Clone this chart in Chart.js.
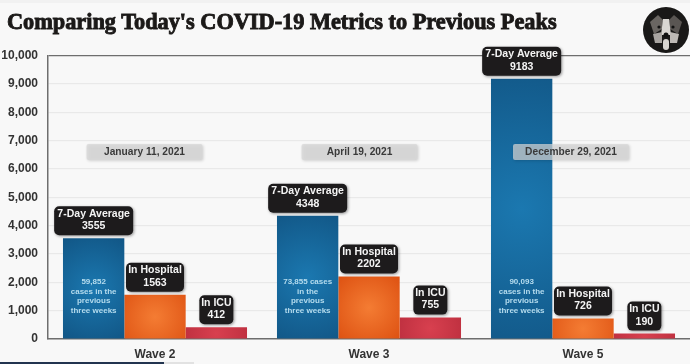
<!DOCTYPE html>
<html>
<head>
<meta charset="utf-8">
<title>Comparing Today's COVID-19 Metrics to Previous Peaks</title>
<script src="https://cdn.jsdelivr.net/npm/chart.js@4"></script>
<style>
    html, body { margin: 0; padding: 0; background: #f8f8f8; }
    #wrap { position: relative; width: 690px; height: 364px; overflow: hidden; }
    #chart { position: absolute; left: 0; top: 0; }
    #titulo {
        position: absolute; left: 7px; top: 8px; margin: 0; white-space: nowrap;
        font: bold 22.3px/28px "Liberation Serif", serif; color: #1b1918;
        -webkit-text-stroke: 0.9px #1b1918;
    }
    #avatar { position: absolute; left: 643px; top: 7px; filter: blur(0.5px); }
    #top-strip { position: absolute; left: 0; top: 0; width: 690px; height: 3px; background: #f1f1f1; }
    #bottom-bar { position: absolute; left: 0; top: 362px; width: 164px; height: 2px; background: #22344f; }
    #bottom-bar2 { position: absolute; left: 164px; top: 362px; width: 30px; height: 2px; background: #e2e2e2; }
</style>
</head>
<body>
<div id="wrap">
    <canvas id="chart" width="690" height="364"></canvas>
    <div id="top-strip"></div>
    <div id="bottom-bar"></div>
    <div id="bottom-bar2"></div>
    <h1 id="titulo">Comparing Today's COVID-19 Metrics to Previous Peaks</h1>
    <svg id="avatar" width="46" height="46" viewBox="0 0 46 46">
        <circle cx="23" cy="23" r="23" fill="#191817"/>
        <path d="M7 15 L15 8 L20 13 L19 22 L11 27 Z" fill="#6a6662"/>
        <path d="M39 15 L31 8 L26 13 L27 22 L35 27 Z" fill="#5a5653"/>
        <path d="M20 12 L26 12 L28 28 L18 28 Z" fill="#d9d6d2"/>
        <path d="M10 27 L19 25 L19 36 L12 36 Z" fill="#a9a5a1"/>
        <path d="M36 27 L27 25 L27 36 L34 36 Z" fill="#bdb9b5"/>
        <circle cx="16" cy="20" r="1.6" fill="#111"/>
        <circle cx="30" cy="20" r="1.6" fill="#111"/>
        <circle cx="23" cy="28" r="2.5" fill="#111"/>
        <rect x="20" y="32" width="6" height="11" rx="3" fill="#d8d5d1"/>
    </svg>
</div>

<script>
const ondas = ["Wave 2", "Wave 3", "Wave 5"];
const mediaSete = [3555, 4348, 9183];
const noHospital = [1563, 2202, 726];
const naUti = [412, 755, 190];
const datas = ["January 11, 2021", "April 19, 2021", "December 29, 2021"];
const notasCasos = [
    ["59,852", "cases in the", "previous", "three weeks"],
    ["73,855 cases", "in the", "previous", "three weeks"],
    ["90,093", "cases in the", "previous", "three weeks"]
];

const FONTE = '"Liberation Sans", Arial, sans-serif';
const LARGURA_CATEGORIA = 0.86;

// preenchimento radial de cada barra, claro no meio e escuro nas pontas
function preenchimento(meio, borda) {
    return function (c) {
        if (c.type !== "data" || !c.chart.chartArea) return borda;
        let x = c.chart.scales.x, y = c.chart.scales.y;
        let largura = (x.width / ondas.length) * LARGURA_CATEGORIA / 3;
        let cx = x.getPixelForValue(c.dataIndex) + (c.datasetIndex - 1) * largura;
        let topo = y.getPixelForValue(c.raw);
        let cy = (topo + y.getPixelForValue(0)) / 2;
        let g = c.chart.ctx.createRadialGradient(cx, cy, 0, cx, cy, Math.max(largura * 0.75, (y.getPixelForValue(0) - topo) * 0.55));
        g.addColorStop(0, meio);
        g.addColorStop(1, borda);
        return g;
    };
}

function caixa(ctx, x, y, w, h, r, cor, sombra) {
    ctx.save();
    ctx.shadowColor = sombra;
    ctx.shadowBlur = 3;
    ctx.shadowOffsetX = 1;
    ctx.shadowOffsetY = 1;
    ctx.fillStyle = cor;
    ctx.beginPath();
    ctx.roundRect(x, y, w, h, r);
    ctx.fill();
    ctx.restore();
}

// etiquetas pretas, notas dentro das barras azuis e caixas de data
const etiquetas = {
    id: "etiquetas",
    afterDatasetsDraw(chart) {
        let ctx = chart.ctx;
        let nomes = ["7-Day Average", "In Hospital", "In ICU"];
        let larguras = [79, 58, 34];

        ctx.save();
        ctx.textAlign = "center";
        ctx.textBaseline = "middle";

        chart.data.datasets.forEach((ds, d) => {
            chart.getDatasetMeta(d).data.forEach((barra, i) => {
                let w = larguras[d];
                caixa(ctx, barra.x - w / 2, barra.y - 32, w, 29, 5, "#1d1b1c", "rgba(0,0,0,0.4)");
                ctx.fillStyle = "#f4f4f4";
                ctx.font = "bold 10.5px " + FONTE;
                ctx.fillText(nomes[d], barra.x, barra.y - 24.5);
                ctx.fillText(String(ds.data[i]), barra.x, barra.y - 12);
            });
        });

        // notas de casos
        ctx.fillStyle = "#b5dcee";
        ctx.font = "bold 8px " + FONTE;
        chart.getDatasetMeta(0).data.forEach((barra, i) => {
            notasCasos[i].forEach((linha, n) => {
                ctx.fillText(linha, barra.x, chart.scales.y.getPixelForValue(2010) + n * 9.6);
            });
        });

        // datas acima de cada onda
        let ajuste = [-10.5, -9.5, -12];
        ctx.font = "bold 10.2px " + FONTE;
        datas.forEach((texto, i) => {
            let cx = chart.scales.x.getPixelForValue(i) + ajuste[i];
            let cy = chart.scales.y.getPixelForValue(6600);
            caixa(ctx, cx - 58, cy - 8, 116, 16, 2, "rgba(214,214,214,0.72)", "rgba(0,0,0,0.22)");
            ctx.fillStyle = "#3a3a3a";
            ctx.fillText(texto, cx, cy + 0.5);
        });
        ctx.restore();
    }
};

new Chart(document.getElementById("chart"), {
    type: "bar",
    data: {
        labels: ondas,
        datasets: [
            { label: "7-Day Average", data: mediaSete, backgroundColor: preenchimento("#1b78b0", "#125888") },
            { label: "In Hospital", data: noHospital, backgroundColor: preenchimento("#f47c33", "#dc4f10") },
            { label: "In ICU", data: naUti, backgroundColor: preenchimento("#d8404f", "#b52a3a") }
        ]
    },
    options: {
        responsive: false,
        animation: false,
        layout: { padding: { left: 0, right: 0, top: 55.5, bottom: 0 } },
        datasets: { bar: { barPercentage: 1, categoryPercentage: LARGURA_CATEGORIA } },
        plugins: {
            legend: { display: false },
            tooltip: { enabled: false },
            title: { display: false }
        },
        scales: {
            x: {
                afterFit(scale) { scale.height = 25; },
                border: { color: "#6e6e6e", width: 1.5 },
                grid: { display: false },
                ticks: { color: "#333", padding: 0, font: { family: FONTE, size: 12, weight: "bold" } }
            },
            y: {
                min: 0,
                max: 10000,
                afterFit(scale) { scale.width = 48; },
                border: { color: "#6e6e6e", width: 1.5 },
                grid: {
                    color: c => c.tick.value === 10000 ? "#6e6e6e" : "#e9e9e9",
                    lineWidth: 1.2,
                    drawTicks: false
                },
                ticks: {
                    stepSize: 1000,
                    padding: 10,
                    color: "#333",
                    font: { family: FONTE, size: 12, weight: "bold" },
                    callback: v => v.toLocaleString("en-US")
                }
            }
        }
    },
    plugins: [etiquetas]
});
</script>
</body>
</html>
